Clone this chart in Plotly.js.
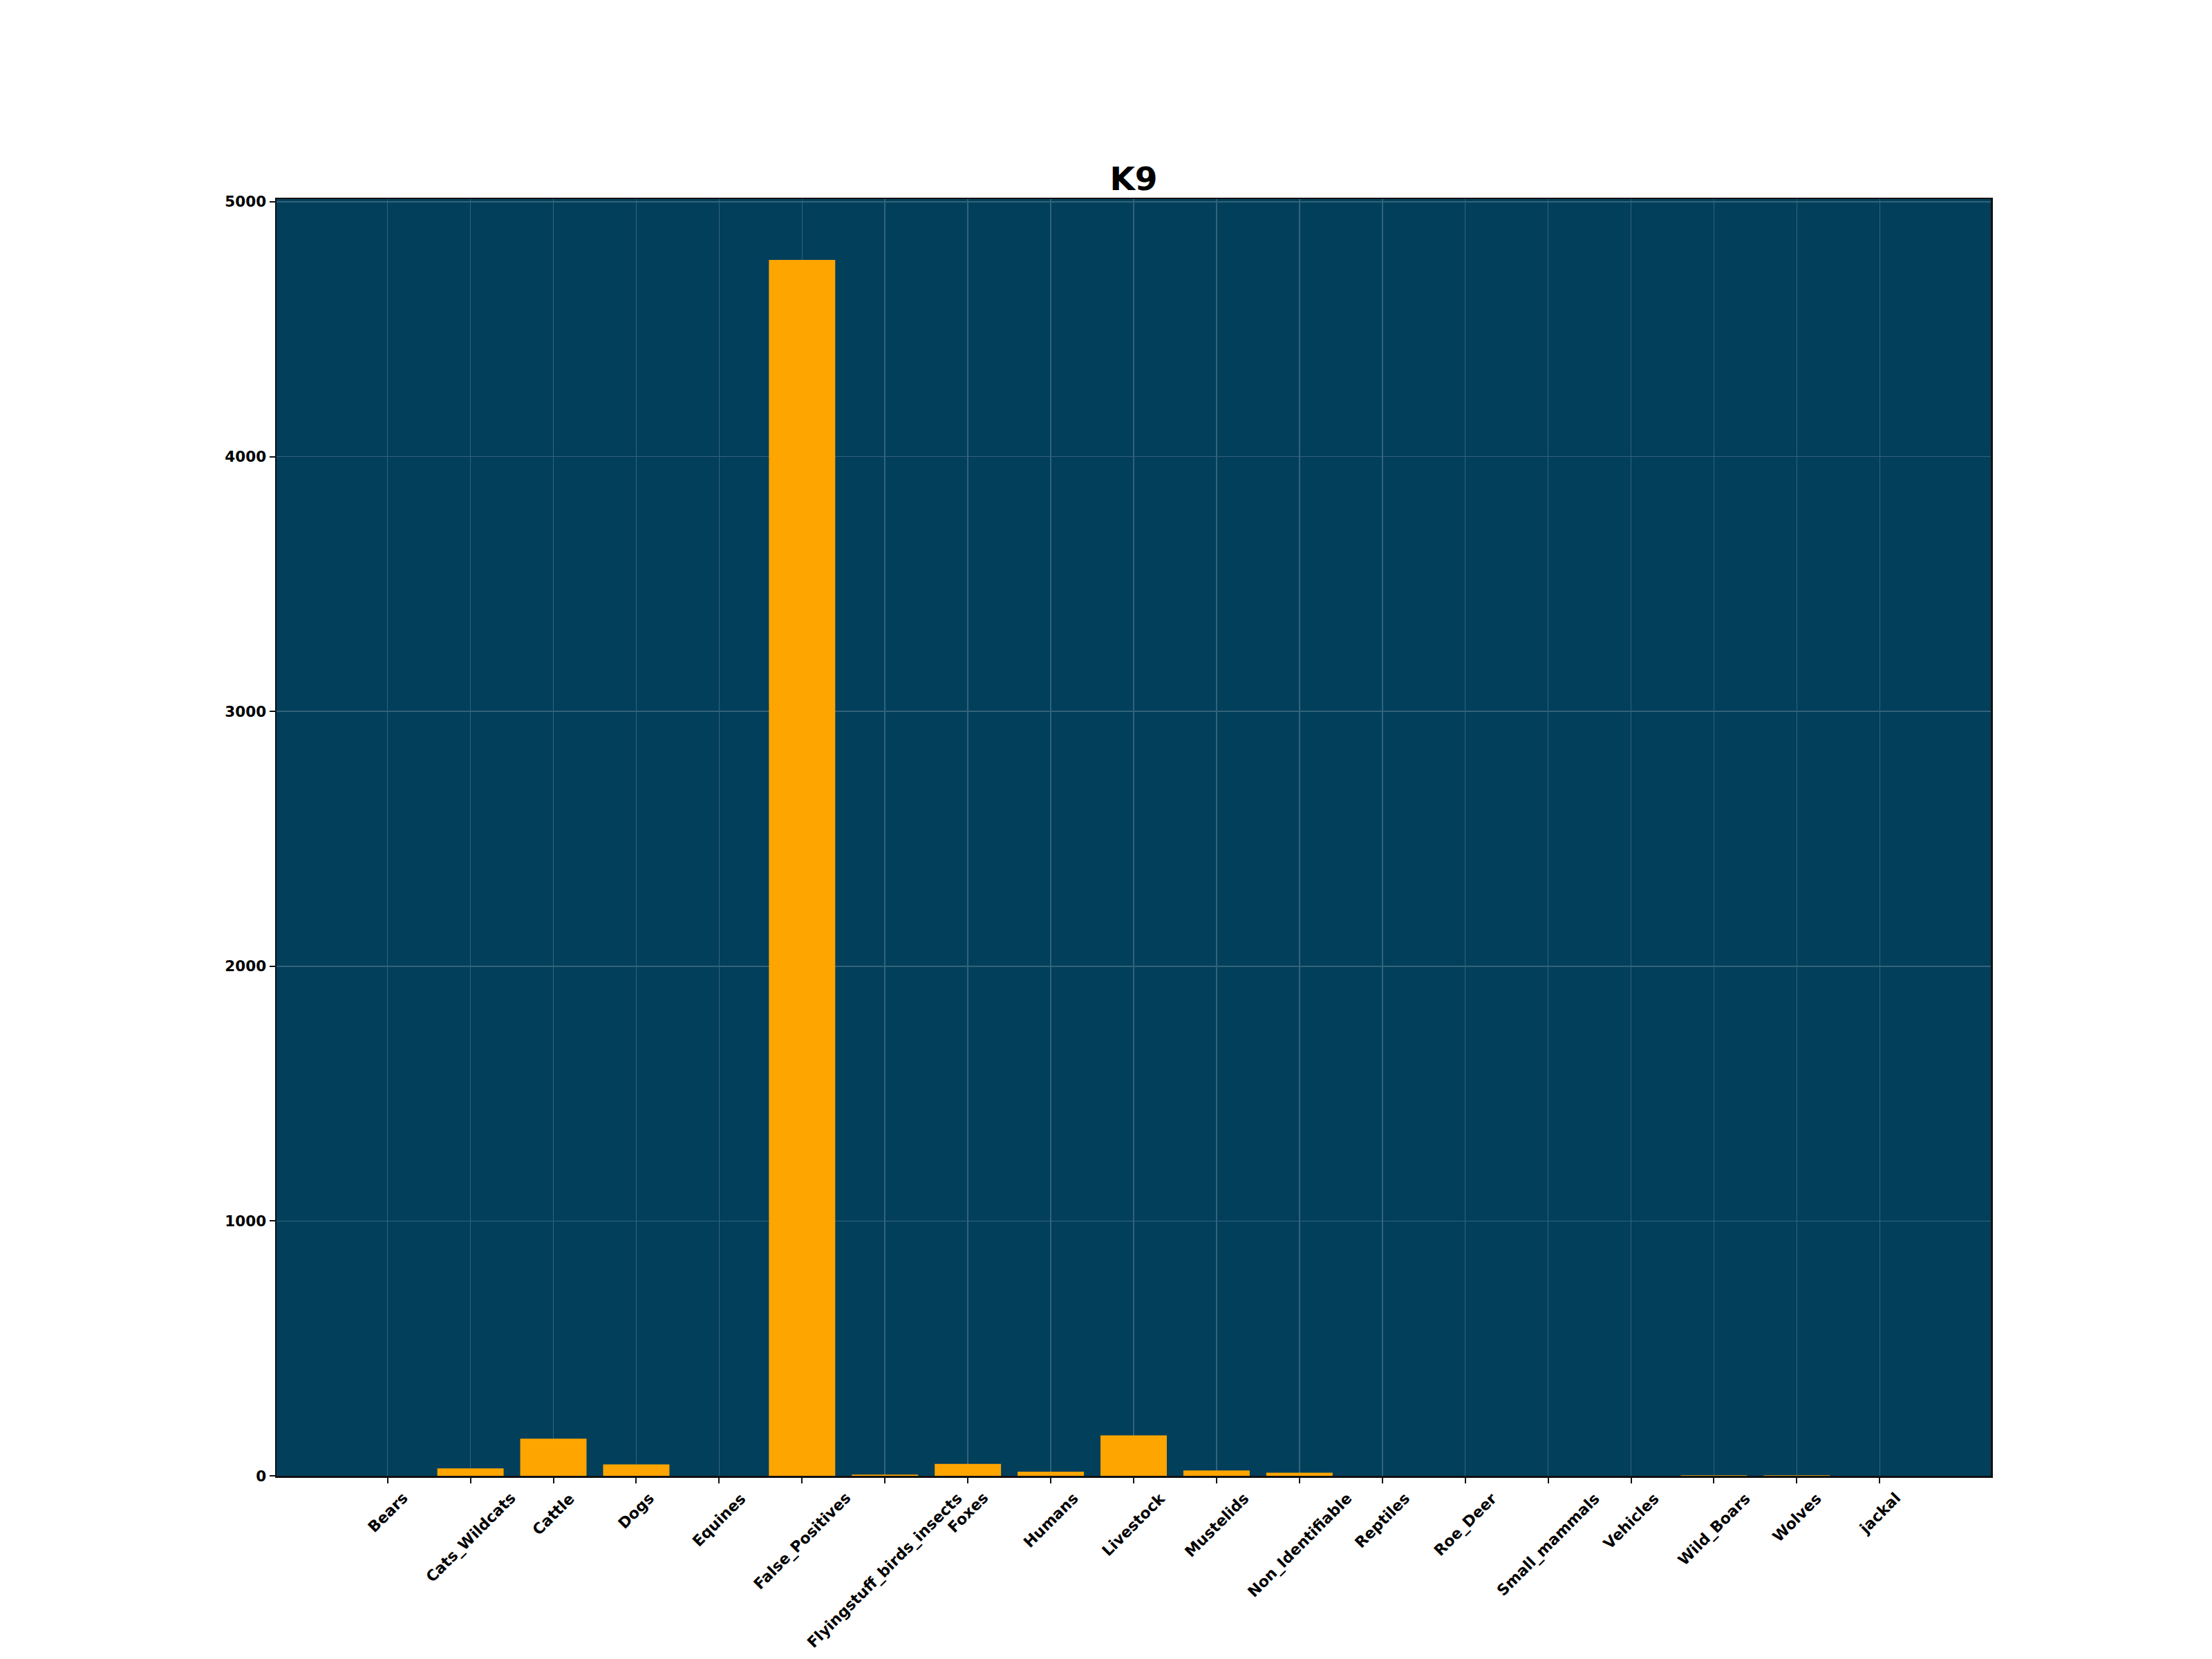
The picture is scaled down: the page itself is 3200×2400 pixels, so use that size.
<!DOCTYPE html>
<html>
<head>
<meta charset="utf-8">
<script src="https://cdn.plot.ly/plotly-3.0.1.min.js"></script>
<style>
  html, body { margin: 0; padding: 0; background: #ffffff; }
  #chart { width: 3200px; height: 2400px; }
</style>
</head>
<body>
<div id="chart"></div>
<script>
// ---- Data ----
const categories = [
  "Bears", "Cats_Wildcats", "Cattle", "Dogs", "Equines", "False_Positives",
  "Flyingstuff_birds_insects", "Foxes", "Humans", "Livestock", "Mustelids",
  "Non_Identifiable", "Reptiles", "Roe_Deer", "Small_mammals", "Vehicles",
  "Wild_Boars", "Wolves", "jackal"
];
const counts = [
  0, 29, 146, 45, 0, 4772,
  5, 47, 16, 159, 21,
  12, 0, 0, 0, 0,
  2, 2, 0
];
const yTickValues = [0, 1000, 2000, 3000, 4000, 5000];
const chartTitle = "K9";

// ---- Styling ----
const FONT = "DejaVu Sans, Liberation Sans, sans-serif";
const bgColor = "#023f5b";
const gridColor = "#33637b";
const barColor = "#ffa500";

const trace = {
  type: "bar",
  x: categories,
  y: counts,
  marker: { color: barColor, line: { width: 0 } },
  hoverinfo: "x+y"
};

// Category tick labels drawn as rotated, centre-aligned text (like the reference)
const labelAnnotations = categories.map(c => ({
  x: c,
  xref: "x",
  y: 0,
  yref: "paper",
  yanchor: "top",
  xanchor: "center",
  yshift: -17,
  text: c,
  textangle: -45,
  showarrow: false,
  font: { family: FONT, size: 22, color: "#000000", weight: "bold" }
}));

const maxVal = Math.max(...counts);

const layout = {
  width: 3200,
  height: 2400,
  paper_bgcolor: "#ffffff",
  plot_bgcolor: bgColor,
  margin: { l: 400, r: 320, t: 288, b: 265, pad: 0 },
  showlegend: false,
  bargap: 0.2,
  title: {
    text: chartTitle,
    font: { family: FONT, size: 47, color: "#000000", weight: "bold" },
    x: 0.5,
    xref: "paper",
    xanchor: "center",
    y: 1,
    yref: "paper",
    yanchor: "bottom",
    pad: { b: 13 }
  },
  xaxis: {
    type: "category",
    range: [-1.34, categories.length - 1 + 1.34],
    showticklabels: false,
    ticks: "outside",
    ticklen: 8,
    tickwidth: 2,
    tickcolor: "#111111",
    showgrid: true,
    gridcolor: gridColor,
    gridwidth: 1.5,
    showline: true,
    linecolor: "#111111",
    linewidth: 2.5,
    mirror: true,
    zeroline: false,
    fixedrange: true
  },
  yaxis: {
    range: [0, maxVal * 1.05],
    tickmode: "array",
    tickvals: yTickValues,
    ticktext: yTickValues.map(v => String(v)),
    ticks: "outside",
    ticklen: 8,
    tickwidth: 2,
    tickcolor: "#111111",
    tickfont: { family: FONT, size: 21.5, color: "#000000", weight: "bold" },
    showgrid: true,
    gridcolor: gridColor,
    gridwidth: 1.5,
    showline: true,
    linecolor: "#111111",
    linewidth: 2.5,
    mirror: true,
    zeroline: false,
    fixedrange: true
  },
  annotations: labelAnnotations
};

Plotly.newPlot("chart", [trace], layout, { staticPlot: true, displayModeBar: false });
</script>
</body>
</html>
